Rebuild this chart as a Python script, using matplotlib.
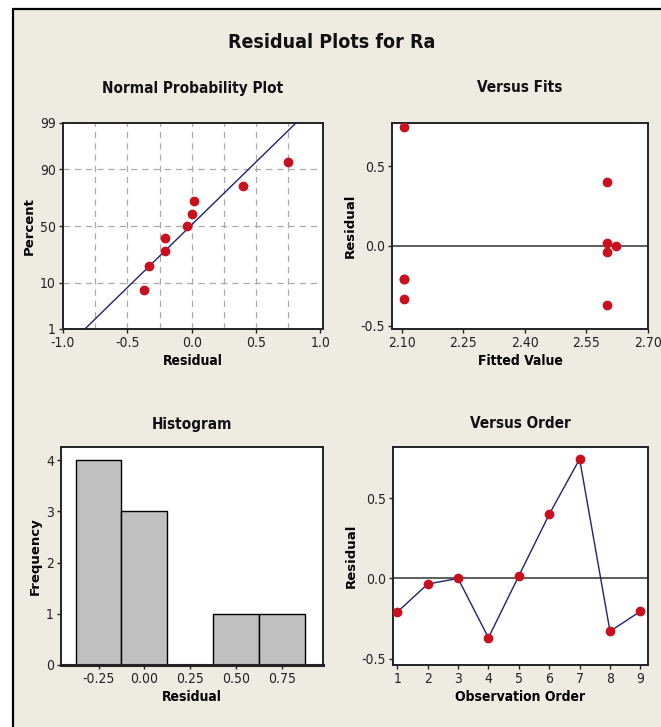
from statistics import NormalDist
import numpy as np
import matplotlib
matplotlib.use("Agg")
import matplotlib.pyplot as plt
from matplotlib.patches import Rectangle

# data
obs_order = [1, 2, 3, 4, 5, 6, 7, 8, 9]
residuals = [-0.21, -0.035, 0.0, -0.37, 0.016, 0.40, 0.745, -0.33, -0.205]
fitted = [2.105, 2.60, 2.623, 2.60, 2.60, 2.60, 2.105, 2.105, 2.105]
prob_pct = [7.4, 18.1, 28.7, 39.4, 50.0, 60.6, 71.3, 81.9, 92.6]
line_x = [-0.83, 0.81]
line_pct = [1, 99]
hist_edges = [-0.375, -0.125, 0.125, 0.375, 0.625, 0.875]

BG = "#EEEBE2"
RED = "#C8101E"
NAVY = "#1E2470"
GRID = "#AAAAAA"

plt.rcParams["font.family"] = ["Liberation Sans Narrow", "DejaVu Sans"]
plt.rcParams["font.stretch"] = "condensed"

nd = NormalDist()


def fwd(p):
    p = np.clip(np.asarray(p, dtype=float), 1e-6, 100 - 1e-6)
    return np.array([nd.inv_cdf(v / 100.0) for v in p.ravel()]).reshape(p.shape)


def inv(z):
    z = np.asarray(z, dtype=float)
    return np.array([nd.cdf(v) * 100.0 for v in z.ravel()]).reshape(z.shape)


def style(ax, xlabel, ylabel, title, title_y):
    ax.set_facecolor("white")
    for s in ax.spines.values():
        s.set_linewidth(1.4)
        s.set_color("#222222")
    ax.tick_params(labelsize=10, length=3, width=1, pad=2, colors="#222222")
    ax.set_xlabel(xlabel, fontsize=10, fontweight="bold", labelpad=3)
    ax.set_ylabel(ylabel, fontsize=9.5, fontweight="bold", family="DejaVu Sans",
                  stretch="normal", labelpad=3)
    pos = ax.get_position()
    fig.text((pos.x0 + pos.x1) / 2, 1 - title_y / 727, title, ha="center", va="center",
             fontsize=11, fontweight="bold", color="#111111")


fig = plt.figure(figsize=(6.61, 7.27), dpi=100)
fig.patch.set_facecolor("white")
fig.patches.append(Rectangle((13.5 / 661, -0.02), 1.1, 1 - 8.5 / 727 + 0.02,
                             transform=fig.transFigure, facecolor=BG,
                             edgecolor="black", linewidth=1.6, zorder=-10))

fig.text(0.502, 1 - 42 / 727, "Residual Plots for Ra", ha="center", va="center",
         fontsize=14, fontweight="bold", color="#111111")

# Normal probability plot
ax1 = fig.add_axes([63 / 661, 1 - 329 / 727, 260 / 661, 206 / 727])
ax1.set_yscale("function", functions=(fwd, inv))
ax1.set_xlim(-1.0, 1.02)
ax1.set_ylim(1, 99)
for gx in [-0.75, -0.5, -0.25, 0.0, 0.25, 0.5, 0.75]:
    ax1.axvline(gx, color=GRID, lw=0.9, ls=(0, (5, 4)), zorder=1)
for gy in [10, 50, 90]:
    ax1.axhline(gy, color=GRID, lw=0.9, ls=(0, (5, 4)), zorder=1)
ax1.plot(line_x, line_pct, color=NAVY, lw=1.0, zorder=2)
ax1.plot(sorted(residuals), prob_pct, "o", color=RED, ms=6, zorder=3)
ax1.set_xticks([-1.0, -0.5, 0.0, 0.5, 1.0])
ax1.set_xticklabels(["-1.0", "-0.5", "0.0", "0.5", "1.0"])
ax1.set_yticks([1, 10, 50, 90, 99])
ax1.set_yticklabels(["1", "10", "50", "90", "99"])
ax1.minorticks_off()
style(ax1, "Residual", "Percent", "Normal Probability Plot", 88)

# Versus fits
ax2 = fig.add_axes([392 / 661, 1 - 329 / 727, 256 / 661, 206 / 727])
ax2.axhline(0, color="#333333", lw=1.1, zorder=1)
ax2.plot(fitted, residuals, "o", color=RED, ms=6, zorder=3)
ax2.set_xlim(2.076, 2.70)
ax2.set_ylim(-0.52, 0.77)
ax2.set_xticks([2.10, 2.25, 2.40, 2.55, 2.70])
ax2.set_xticklabels(["2.10", "2.25", "2.40", "2.55", "2.70"])
ax2.set_yticks([-0.5, 0.0, 0.5])
ax2.set_yticklabels(["-0.5", "0.0", "0.5"])
style(ax2, "Fitted Value", "Residual", "Versus Fits", 88)

# Histogram
ax3 = fig.add_axes([61 / 661, 1 - 665 / 727, 262 / 661, 218 / 727])
ax3.hist(residuals, bins=hist_edges, color="#C0C0C0", edgecolor="black", linewidth=1.0, zorder=2)
ax3.set_xlim(-0.455, 0.975)
ax3.set_ylim(0, 4.26)
ax3.set_xticks([-0.25, 0.0, 0.25, 0.5, 0.75])
ax3.set_xticklabels(["-0.25", "0.00", "0.25", "0.50", "0.75"])
ax3.set_yticks([0, 1, 2, 3, 4])
style(ax3, "Residual", "Frequency", "Histogram", 424)
ax3.spines["bottom"].set_linewidth(2.2)

# Versus order
ax4 = fig.add_axes([393 / 661, 1 - 665 / 727, 255 / 661, 218 / 727])
ax4.axhline(0, color="#333333", lw=1.1, zorder=1)
ax4.plot(obs_order, residuals, "-", color=NAVY, lw=1.0, zorder=2)
ax4.plot(obs_order, residuals, "o", color=RED, ms=6, zorder=3)
ax4.set_xlim(0.86, 9.25)
ax4.set_ylim(-0.54, 0.82)
ax4.set_xticks(obs_order)
ax4.set_yticks([-0.5, 0.0, 0.5])
ax4.set_yticklabels(["-0.5", "0.0", "0.5"])
style(ax4, "Observation Order", "Residual", "Versus Order", 424)

fig.savefig("out.png", dpi=100, facecolor=fig.get_facecolor())
